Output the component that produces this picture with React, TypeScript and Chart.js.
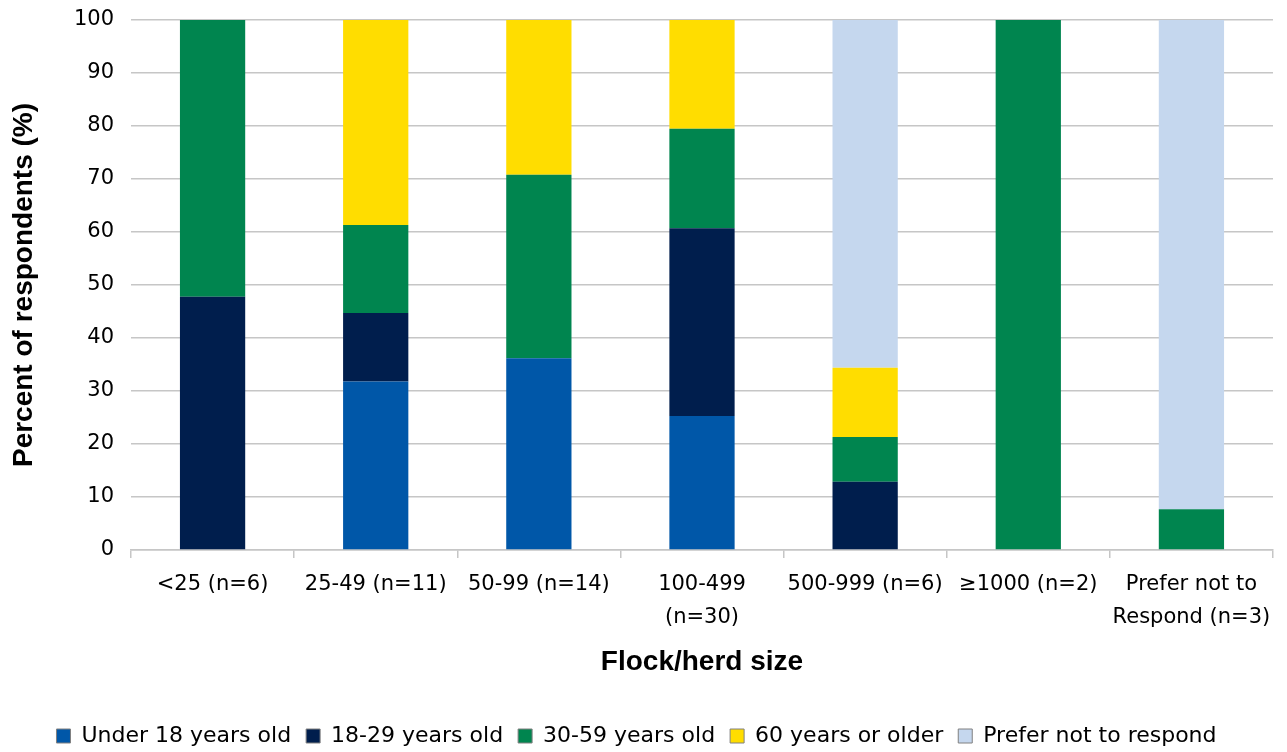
import React, { useEffect, useRef } from "react";
import { Chart, registerables } from "chart.js";

Chart.register(...registerables);

const categories: (string | string[])[] = [
  "<25 (n=6)",
  "25-49 (n=11)",
  "50-99 (n=14)",
  ["100-499", "(n=30)"],
  "500-999 (n=6)",
  "≥1000 (n=2)",
  ["Prefer not to", "Respond (n=3)"],
];

const under18 = [0, 31.8, 36.2, 25.3, 0, 0, 0];
const age18to29 = [47.8, 12.9, 0, 35.4, 12.9, 0, 0];
const age30to59 = [52.2, 16.6, 34.6, 18.8, 8.4, 100, 7.7];
const age60plus = [0, 38.7, 29.2, 20.5, 13.1, 0, 0];
const preferNot = [0, 0, 0, 0, 65.7, 0, 92.3];

const yTicks = [0, 10, 20, 30, 40, 50, 60, 70, 80, 90, 100];

const seriesNames = [
  "Under 18 years old",
  "18-29 years old",
  "30-59 years old",
  "60 years or older",
  "Prefer not to respond",
];
const seriesColors = ["#0057A8", "#001E4D", "#00854F", "#FFDD00", "#C5D7EE"];

const TICK_FONT = "'DejaVu Sans', Verdana, sans-serif";
const TITLE_FONT = "'Liberation Sans', Arial, Helvetica, sans-serif";

export default function App() {
  const ref = useRef<HTMLCanvasElement | null>(null);

  useEffect(() => {
    if (!ref.current) return;
    const values = [under18, age18to29, age30to59, age60plus, preferNot];
    const chart = new Chart(ref.current, {
      type: "bar",
      data: {
        labels: categories,
        datasets: values.map((data, i) => ({
          label: seriesNames[i],
          data,
          backgroundColor: seriesColors[i],
          borderWidth: 0,
          barPercentage: 0.4,
          categoryPercentage: 1,
        })),
      },
      options: {
        animation: false,
        responsive: true,
        maintainAspectRatio: false,
        layout: { autoPadding: false, padding: { left: 0, right: 14, top: 20, bottom: 0 } },
        plugins: {
          tooltip: { enabled: false },
          legend: {
            position: "bottom",
            labels: {
              color: "#000",
              font: { family: TICK_FONT, size: 22 },
              boxWidth: 14,
              boxHeight: 14,
              padding: 15,
              generateLabels: (c: any) => {
                const items = Chart.defaults.plugins.legend.labels.generateLabels(c);
                return items.map((it: any) => ({
                  ...it,
                  strokeStyle: "#808080",
                  lineWidth: 1,
                }));
              },
            },
          },
        },
        scales: {
          x: {
            stacked: true,
            afterFit: (axis: any) => {
              axis.height = 160;
            },
            grid: {
              offset: true,
              drawOnChartArea: false,
              drawTicks: true,
              tickLength: 8,
              color: "#c6c6c6",
              lineWidth: 1.5,
            },
            border: { display: true, color: "#c6c6c6", width: 1.5 },
            ticks: {
              color: "#000",
              font: { family: TICK_FONT, size: 21, lineHeight: 1.58 },
              padding: 10,
              maxRotation: 0,
              autoSkip: false,
            },
            title: {
              display: true,
              text: "Flock/herd size",
              color: "#000",
              font: { family: TITLE_FONT, size: 28, weight: "bold", lineHeight: 1.2 },
              padding: { top: 0, bottom: 31 },
            },
          },
          y: {
            stacked: true,
            min: 0,
            max: 100,
            afterBuildTicks: (axis: any) => {
              axis.ticks = yTicks.map((v) => ({ value: v }));
            },
            afterFit: (axis: any) => {
              axis.width = 131;
              axis.paddingTop = 12;
              axis.paddingBottom = 12;
            },
            grid: {
              drawTicks: false,
              color: "#c6c6c6",
              lineWidth: 1.5,
            },
            border: { display: false },
            ticks: {
              color: "#000",
              font: { family: TICK_FONT, size: 21 },
              padding: 17,
            },
            title: {
              display: true,
              text: "Percent of respondents (%)",
              color: "#000",
              font: { family: TITLE_FONT, size: 28, weight: "bold", lineHeight: 1.2 },
              padding: { top: 7, bottom: 0 },
            },
          },
        },
      },
    } as any);
    return () => chart.destroy();
  }, []);

  return (
    <div style={{ position: "fixed", left: 0, top: 0, width: 1287, height: 757, background: "#fff" }}>
      <canvas ref={ref} />
    </div>
  );
}
